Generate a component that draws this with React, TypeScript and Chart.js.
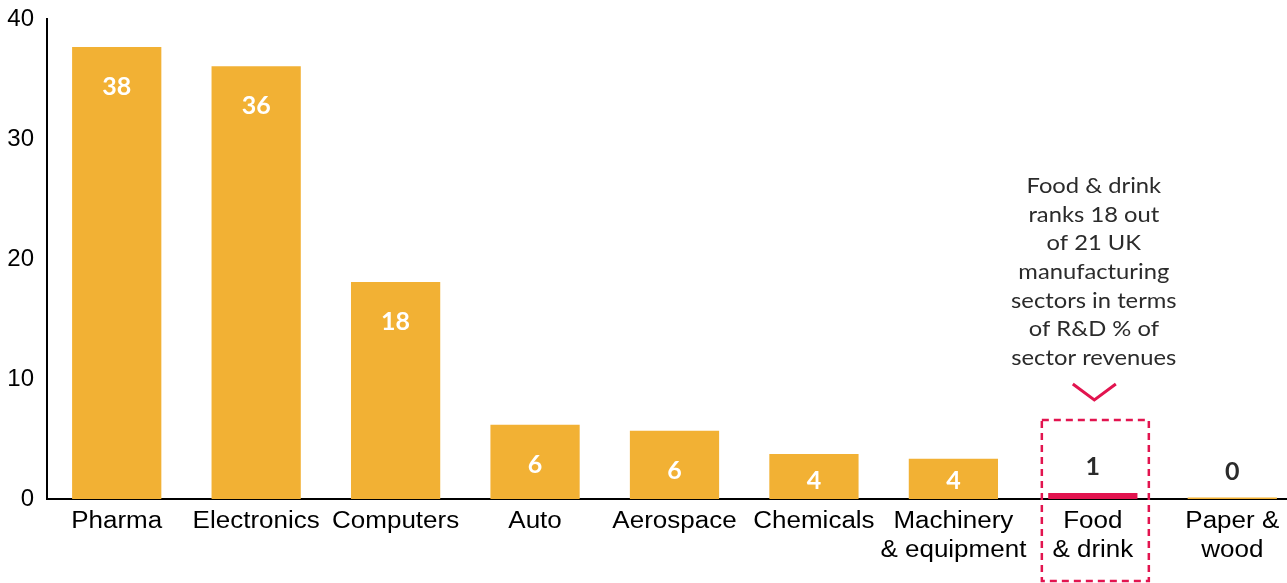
import React, { useEffect, useRef } from "react";
import { Chart, registerables } from "chart.js";

Chart.register(...registerables);

const categories: string[][] = [
  ["Pharma"],
  ["Electronics"],
  ["Computers"],
  ["Auto"],
  ["Aerospace"],
  ["Chemicals"],
  ["Machinery", "& equipment"],
  ["Food", "& drink"],
  ["Paper &", "wood"],
];
const values = [37.7, 36.1, 18.1, 6.2, 5.7, 3.75, 3.35, 0.5, 0.12];
const valueLabels = ["38", "36", "18", "6", "6", "4", "4", "1", "0"];
const highlightIndex = 7;
const yMin = 0;
const yMax = 40;
const yStep = 10;
const annotationLines = [
  "Food & drink",
  "ranks 18 out",
  "of 21 UK",
  "manufacturing",
  "sectors in terms",
  "of R&D % of",
  "sector revenues",
];

const ORANGE = "#F2B134";
const PINK = "#E2144F";
const DARK = "#2b2b2b";

function stretchedText(ctx: CanvasRenderingContext2D, text: string, x: number, y: number, sx: number) {
  ctx.save();
  ctx.translate(x, y);
  ctx.scale(sx, 1);
  ctx.fillText(text, 0, 0);
  ctx.restore();
}

const overlayPlugin = {
  id: "overlay",
  afterDatasetsDraw(chart: any) {
    const ctx = chart.ctx as CanvasRenderingContext2D;
    const meta = chart.getDatasetMeta(0);
    const bottom = chart.chartArea.bottom;
    ctx.save();
    ctx.textAlign = "center";
    ctx.textBaseline = "middle";

    // value labels
    ctx.font = "bold 25px Lato";
    meta.data.forEach((bar: any, i: number) => {
      const x = bar.x;
      const y = bar.y;
      const h = bottom - y;
      if (h > 30) {
        ctx.fillStyle = "#ffffff";
        ctx.fillText(valueLabels[i], x, Math.min(y + 40, bottom - 18));
      } else {
        ctx.fillStyle = DARK;
        ctx.fillText(valueLabels[i], x, y - 26);
      }
    });

    // category labels (slightly wide type, as in the original)
    ctx.fillStyle = "#000";
    ctx.font = "23px 'Liberation Sans', Arial";
    meta.data.forEach((bar: any, i: number) => {
      categories[i].forEach((line, j) => {
        stretchedText(ctx, line, bar.x, bottom + 23 + j * 29, 1.13);
      });
    });

    const hb = meta.data[highlightIndex];
    const cx = hb.x;
    // dashed box
    ctx.strokeStyle = PINK;
    ctx.lineWidth = 2.5;
    ctx.setLineDash([7, 5]);
    ctx.strokeRect(cx - 51, bottom - 79, 107, 161);
    ctx.setLineDash([]);
    // chevron
    ctx.lineWidth = 3;
    ctx.beginPath();
    ctx.moveTo(cx - 20, bottom - 115);
    ctx.lineTo(cx + 1.5, bottom - 99);
    ctx.lineTo(cx + 23, bottom - 115);
    ctx.stroke();
    // annotation text
    ctx.fillStyle = DARK;
    ctx.font = "22px Lato";
    annotationLines.forEach((line, i) => {
      stretchedText(ctx, line, cx + 1, bottom - 313 + i * 28.67, 1.08);
    });
    ctx.restore();
  },
};

export default function App() {
  const ref = useRef<HTMLCanvasElement>(null);
  useEffect(() => {
    if (!ref.current) return;
    const chart = new Chart(ref.current, {
      type: "bar",
      data: {
        labels: categories as any,
        datasets: [
          {
            data: values,
            backgroundColor: values.map((_, i) => (i === highlightIndex ? PINK : ORANGE)),
            borderWidth: 0,
            barPercentage: 0.64,
            categoryPercentage: 1,
          },
        ],
      },
      options: {
        animation: false,
        responsive: false,
        devicePixelRatio: 1,
        layout: { padding: { top: 17, left: 0, right: 0, bottom: 0 } },
        plugins: { legend: { display: false }, tooltip: { enabled: false } },
        scales: {
          x: {
            grid: { display: false },
            border: { display: true, color: "#000", width: 2 },
            ticks: { display: false },
            afterFit(scale: any) {
              scale.height = 84;
            },
          },
          y: {
            min: yMin,
            max: yMax,
            grid: { display: false },
            border: { display: true, color: "#000", width: 2 },
            ticks: {
              stepSize: yStep,
              color: "#000",
              font: { family: "'Liberation Sans', Arial", size: 24 },
              padding: 5,
            },
            afterFit(scale: any) {
              scale.width = 47;
            },
          },
        },
      },
      plugins: [overlayPlugin],
    });
    return () => chart.destroy();
  }, []);
  return (
    <div
      style={{
        position: "fixed",
        left: 0,
        top: 0,
        width: 1287,
        height: 583,
        overflow: "hidden",
        background: "#fff",
      }}
    >
      <canvas ref={ref} width={1302} height={583} style={{ display: "block" }} />
    </div>
  );
}
